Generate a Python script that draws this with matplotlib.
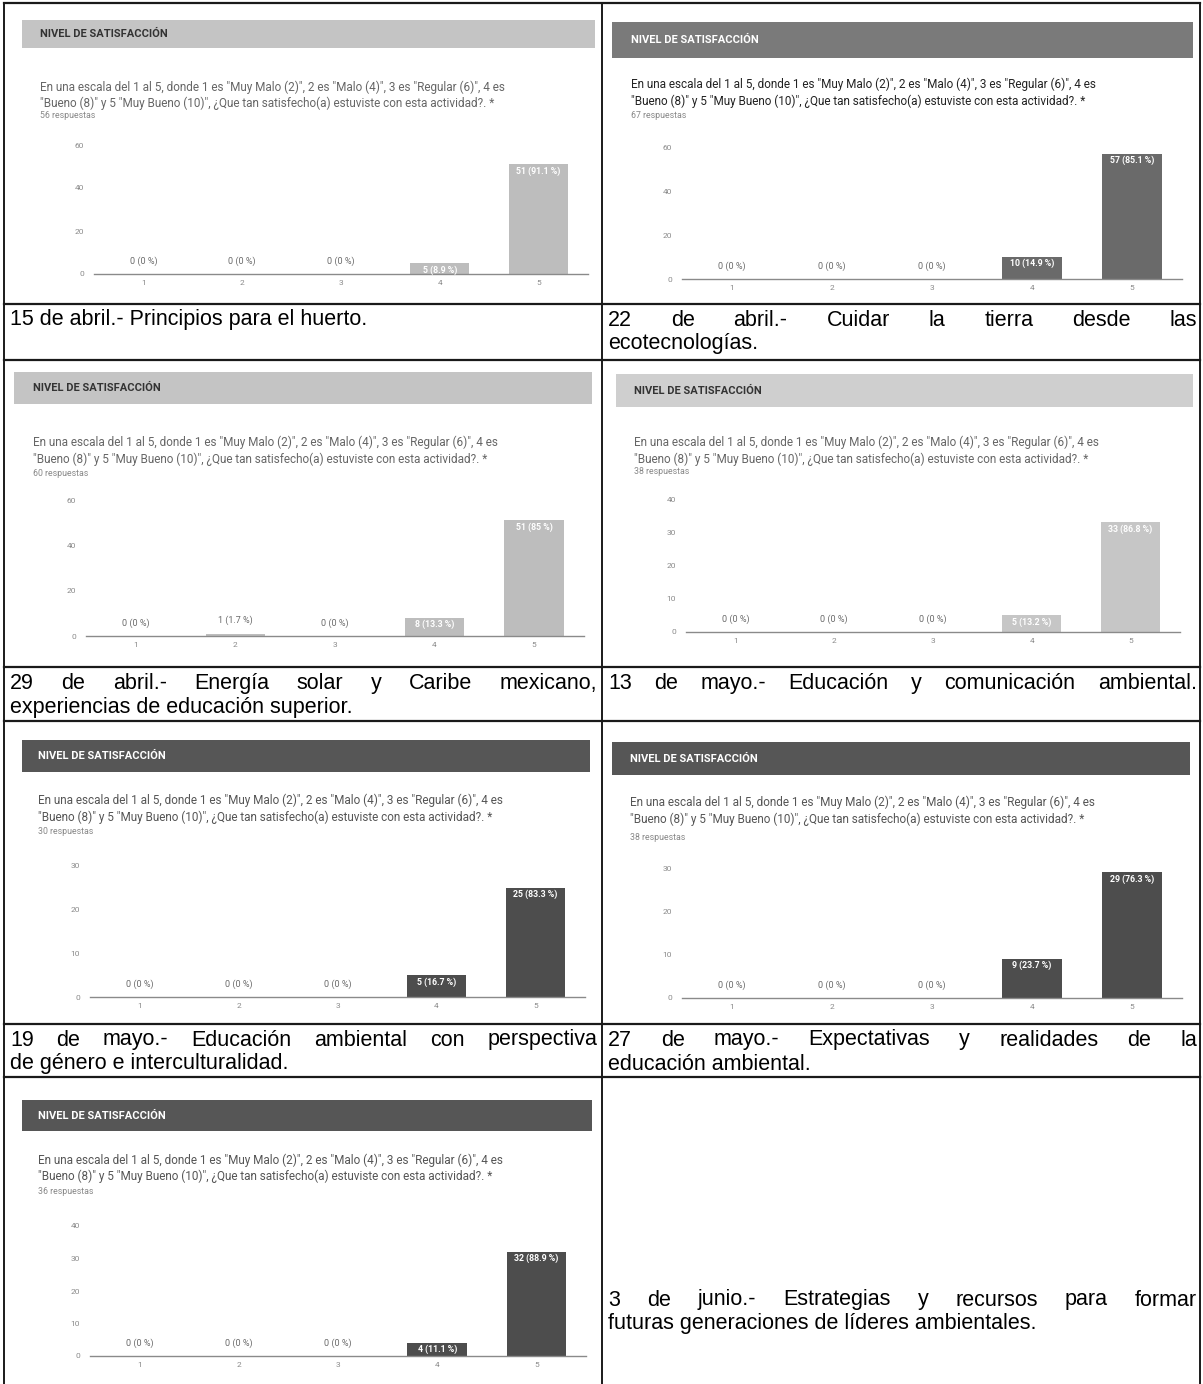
import matplotlib
matplotlib.use('Agg')
import matplotlib.pyplot as plt
from matplotlib.patches import Rectangle
from matplotlib.lines import Line2D

W, H = 1203, 1384
DPI = 100

CATEGORIES = ['1', '2', '3', '4', '5']
RESPONSES = [56, 67, 60, 38, 30, 38, 36]
COUNTS_15ABR = [0, 0, 0, 5, 51]
COUNTS_22ABR = [0, 0, 0, 10, 57]
COUNTS_29ABR = [0, 1, 0, 8, 51]
COUNTS_13MAY = [0, 0, 0, 5, 33]
COUNTS_19MAY = [0, 0, 0, 5, 25]
COUNTS_27MAY = [0, 0, 0, 9, 29]
COUNTS_03JUN = [0, 0, 0, 4, 32]
Y_TICKS_60 = [0, 20, 40, 60]
Y_TICKS_40 = [0, 10, 20, 30, 40]
Y_TICKS_30 = [0, 10, 20, 30]

HEADER = 'NIVEL DE SATISFACCIÓN'
QUESTION_1 = ('En una escala del 1 al 5, donde 1 es "Muy Malo (2)", 2 es "Malo (4)", '
              '3 es "Regular (6)", 4 es')
QUESTION_2 = '"Bueno (8)" y 5 "Muy Bueno (10)", ¿Que tan satisfecho(a) estuviste con esta actividad?. *'

CAPTIONS = [
    (['15 de abril.- Principios para el huerto.'], False),
    (['22 de abril.- Cuidar la tierra desde las', 'ecotecnologías.'], True),
    (['29 de abril.- Energía solar y Caribe mexicano,', 'experiencias de educación superior.'], True),
    (['13 de mayo.- Educación y comunicación ambiental.'], True),
    (['19 de mayo.- Educación ambiental con perspectiva', 'de género e interculturalidad.'], True),
    (['27 de mayo.- Expectativas y realidades de la', 'educación ambiental.'], True),
    (['3 de junio.- Estrategias y recursos para formar',
      'futuras generaciones de líderes ambientales.'], True),
]

# --- Look of the scanned forms ---
LIGHT_HEAD, LIGHT_BAR = '#c4c4c4', '#bdbdbd'
MID_HEAD, MID_BAR = '#7a7a7a', '#6a6a6a'
DARK_HEAD, DARK_BAR = '#565656', '#4d4d4d'
CHART_FONT = 'Roboto'
CAPTION_FONT = 'Liberation Sans'

# panel layout in pixels: header box, text rows, plot box
PANELS = [
    dict(counts=COUNTS_15ABR, resp=RESPONSES[0], ticks=Y_TICKS_60, hx=(22, 595), hy=(20, 48), tx=40,
         qy=(87, 103), ry=116, y0=274, yt=145, ax=(94, 588), head=LIGHT_HEAD, bar=LIGHT_BAR,
         htext='#333333', qcol='#666666'),
    dict(counts=COUNTS_22ABR, resp=RESPONSES[1], ticks=Y_TICKS_60, hx=(612, 1193), hy=(22, 58), tx=631,
         qy=(84, 101), ry=116, y0=279, yt=147, ax=(682, 1182), head=MID_HEAD, bar=MID_BAR,
         htext='white', qcol='#222222'),
    dict(counts=COUNTS_29ABR, resp=RESPONSES[2], ticks=Y_TICKS_60, hx=(14, 592), hy=(372, 404), tx=33,
         qy=(442, 459), ry=474, y0=636, yt=500, ax=(86, 584), head=LIGHT_HEAD, bar=LIGHT_BAR,
         htext='#333333', qcol='#666666'),
    dict(counts=COUNTS_13MAY, resp=RESPONSES[3], ticks=Y_TICKS_40, hx=(616, 1193), hy=(374, 407), tx=634,
         qy=(442, 459), ry=471, y0=632, yt=499, ax=(686, 1180), head='#cfcfcf', bar='#c6c6c6',
         htext='#333333', qcol='#666666'),
    dict(counts=COUNTS_19MAY, resp=RESPONSES[4], ticks=Y_TICKS_30, hx=(22, 590), hy=(740, 772), tx=38,
         qy=(800, 817), ry=832, y0=997, yt=866, ax=(90, 585), head=DARK_HEAD, bar=DARK_BAR,
         htext='white', qcol='#555555'),
    dict(counts=COUNTS_27MAY, resp=RESPONSES[5], ticks=Y_TICKS_30, hx=(612, 1190), hy=(742, 775), tx=630,
         qy=(802, 819), ry=837, y0=998, yt=868, ax=(682, 1182), head=DARK_HEAD, bar=DARK_BAR,
         htext='white', qcol='#555555'),
    dict(counts=COUNTS_03JUN, resp=RESPONSES[6], ticks=Y_TICKS_40, hx=(22, 592), hy=(1100, 1131), tx=38,
         qy=(1160, 1176), ry=1192, y0=1356, yt=1226, ax=(90, 586), head=DARK_HEAD, bar=DARK_BAR,
         htext='white', qcol='#555555'),
]

# caption cells: (x0, x1, first line centre y)
CAPTION_CELLS = [(10, 597, 320), (608, 1197, 320), (10, 597, 683), (608, 1197, 683),
                 (10, 597, 1040), (608, 1197, 1040), (608, 1197, 1300)]
LINE_STEP = 24

fig = plt.figure(figsize=(W / DPI, H / DPI), dpi=DPI)
fig.patch.set_facecolor('white')


def fx(x):
    return x / W


def fy(y):
    return 1 - y / H


def pct_label(count, total):
    p = round(100 * count / total, 1)
    p_txt = f'{p:.1f}'.rstrip('0').rstrip('.')
    return f'{count} ({p_txt} %)'


def draw_panel(p):
    # header band
    x0, x1 = p['hx']
    ya, yb = p['hy']
    fig.patches.append(Rectangle((fx(x0), fy(yb)), fx(x1) - fx(x0), fy(ya) - fy(yb),
                                 transform=fig.transFigure, facecolor=p['head'],
                                 edgecolor='none', zorder=1))
    fig.text(fx(p['tx']), fy((ya + yb) / 2), HEADER, color=p['htext'], fontsize=8,
             fontweight='bold', family=CHART_FONT, va='center', ha='left')
    fig.text(fx(p['tx']), fy(p['qy'][0]), QUESTION_1, color=p['qcol'], fontsize=8.5,
             family=CHART_FONT, va='center', ha='left')
    fig.text(fx(p['tx']), fy(p['qy'][1]), QUESTION_2, color=p['qcol'], fontsize=8.5,
             family=CHART_FONT, va='center', ha='left')
    fig.text(fx(p['tx']), fy(p['ry']), f"{p['resp']} respuestas", color='#888888',
             fontsize=6.3, family=CHART_FONT, va='center', ha='left')

    # bar chart
    a0, a1 = p['ax']
    ax = fig.add_axes([fx(a0), fy(p['y0']), fx(a1) - fx(a0), fy(p['yt']) - fy(p['y0'])])
    ax.set_facecolor('none')
    xs = list(range(1, len(CATEGORIES) + 1))
    ax.bar(xs, p['counts'], width=0.6, color=p['bar'], zorder=2)
    ax.set_xlim(0.5, len(CATEGORIES) + 0.5)
    ax.set_ylim(0, p['ticks'][-1])
    ax.set_yticks(p['ticks'])
    ax.set_xticks(xs)
    ax.set_xticklabels(CATEGORIES)
    ax.tick_params(axis='both', length=0, labelsize=6, labelcolor='#8a8a8a')
    ax.tick_params(axis='y', pad=7)
    ax.tick_params(axis='x', pad=4.5)
    for side in ('top', 'right', 'left'):
        ax.spines[side].set_visible(False)
    ax.spines['bottom'].set_color('#8a8a8a')
    ax.spines['bottom'].set_linewidth(1.0)
    for t in ax.get_yticklabels() + ax.get_xticklabels():
        t.set_family(CHART_FONT)

    for x, c in zip(xs, p['counts']):
        label = pct_label(c, p['resp'])
        if c >= 3:
            ax.annotate(label, (x, c), xytext=(0, -1.5), textcoords='offset points',
                        ha='center', va='top', fontsize=6.3, fontweight='bold',
                        color='white', family=CHART_FONT, zorder=3)
        else:
            ax.annotate(label, (x, c), xytext=(0, 9.5), textcoords='offset points',
                        ha='center', va='center', fontsize=6.5, color='#6a6a6a',
                        family=CHART_FONT, zorder=3)


for p in PANELS:
    draw_panel(p)

# --- Captions (Word-style justified lines) ---
renderer = fig.canvas.get_renderer()


def draw_line(text, x0, x1, y, justify):
    kw = dict(fontsize=15.5, family=CAPTION_FONT, color='black', va='center', ha='left')
    if not justify:
        fig.text(fx(x0), fy(y), text, **kw)
        return
    words = text.split(' ')
    items = [fig.text(0, fy(y), w, **kw) for w in words]
    widths = [t.get_window_extent(renderer).width for t in items]
    gap = (x1 - x0 - sum(widths)) / (len(words) - 1)
    pos = x0
    for t, w in zip(items, widths):
        t.set_x(fx(pos))
        pos += w + gap


for (lines, justify), (x0, x1, y) in zip(CAPTIONS, CAPTION_CELLS):
    for i, line in enumerate(lines):
        last = i == len(lines) - 1 and len(lines) > 1
        draw_line(line, x0, x1, y + i * LINE_STEP, justify and not last)

# --- Table grid ---
H_LINES = [3, 304, 360, 667, 721, 1024, 1077]
V_LINES = [4, 602, 1200]


def hline(y, xa=4, xb=1200, lw=1.6):
    fig.lines.append(Line2D([fx(xa), fx(xb)], [fy(y), fy(y)], transform=fig.transFigure,
                            color='#1a1a1a', linewidth=lw, zorder=5))


def vline(x, ya=3, yb=H, lw=1.4):
    fig.lines.append(Line2D([fx(x), fx(x)], [fy(ya), fy(yb)], transform=fig.transFigure,
                            color='#1a1a1a', linewidth=lw, zorder=5))


for y in H_LINES:
    hline(y)
for x in V_LINES:
    vline(x)

fig.savefig('out.png', dpi=DPI, facecolor='white')
